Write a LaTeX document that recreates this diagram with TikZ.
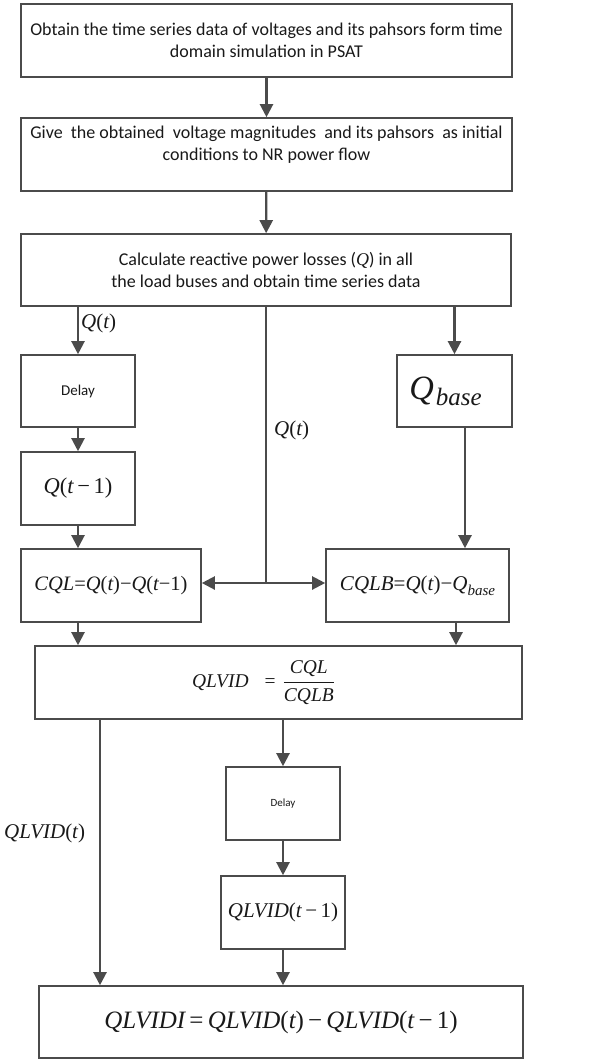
\documentclass[tikz,border=0pt]{standalone}
\usepackage{fontspec}
\setmainfont{Carlito}
\newfontfamily\tnr{Liberation Serif}
\usetikzlibrary{arrows.meta}
\newcommand\mi[1]{{\tnr\itshape #1}}
\newcommand\mup[1]{{\tnr #1}}
\newcommand\mminus{{\tnr\,\char"2212\,}}
\definecolor{lc}{RGB}{75,75,75}
\definecolor{txt}{RGB}{25,25,25}
\begin{document}
\begin{tikzpicture}[x=1pt,y=-1pt,
  box/.style={draw=lc, line width=1.6pt, inner sep=0pt, align=center, text=txt},
  arr/.style={draw=lc, line width=2.2pt, -{Triangle[length=13pt,width=13pt]}},
  ln/.style={draw=lc, line width=2.2pt},
  lbl/.style={text=txt, inner sep=0pt},
  bigtxt/.style={font=\fontsize{18}{22.5}\selectfont}]
\fill[white] (0,0) rectangle (599,1061);
\useasboundingbox (0,0) rectangle (599,1061);

\node[box,bigtxt,minimum width=491pt,minimum height=73pt] (b1) at (266.5,40.5)
  {Obtain the time series data of voltages and its pahsors form time\\domain simulation in PSAT};
\node[box,bigtxt,minimum width=491pt,minimum height=73pt] (b2) at (266.5,154.5)
  {Give\ \ the obtained\ \ voltage magnitudes\ \ and its pahsors\ \ as initial\\conditions to NR power flow\\ \mbox{}};
\node[box,bigtxt,minimum width=490pt,minimum height=72pt] (b3) at (266,270)
  {Calculate reactive power losses (\mi{Q}) in all\\the load buses and obtain time series data};

\node[box,minimum width=114pt,minimum height=72pt,font=\fontsize{15}{18}\selectfont] (d1) at (78,391) {Delay};
\node[box,minimum width=115pt,minimum height=72pt] (qb) at (454.5,391)
  {\fontsize{34}{34}\selectfont\mi{Q}\hspace{2pt}\raisebox{-6pt}{\fontsize{25}{25}\selectfont\mi{base}}\hspace{18pt}};
\node[box,minimum width=114pt,minimum height=73pt,font=\fontsize{22.5}{26}\selectfont] (q1) at (78,488.5)
  {\mi{Q}\mup{(}\mi{t}\mminus\mup{1)}};
\node[box,minimum width=180pt,minimum height=73pt,font=\fontsize{20.5}{24}\selectfont] (cql) at (111,585.5)
  {\mi{CQL}\mup{=}\mi{Q}\mup{(}\mi{t}\mup{)}\mup{\char"2212}\mi{Q}\mup{(}\mi{t}\mup{\char"2212 1)}};
\node[box,minimum width=183pt,minimum height=73pt,font=\fontsize{21}{24}\selectfont] (cqlb) at (417.5,585.5)
  {\mi{CQLB}\mup{=}\mi{Q}\mup{(}\mi{t}\mup{)}\mup{\char"2212}\mi{Q}\raisebox{-5pt}{\fontsize{15}{15}\selectfont\mi{base}}};
\node[box,minimum width=487pt,minimum height=73pt,font=\fontsize{19.5}{22}\selectfont] (qv) at (278.5,682.5)
  {\mi{QLVID}\hspace{16pt}\mup{=}\hspace{7pt}$\displaystyle\frac{\mbox{\fontsize{19.5}{22}\selectfont\mi{CQL}}}{\mbox{\fontsize{19.5}{22}\selectfont\mi{CQLB}}}$\hspace{30pt}};
\node[box,minimum width=114pt,minimum height=73pt,font=\fontsize{11}{13}\selectfont] (d2) at (283,803.5) {Delay};
\node[box,minimum width=124pt,minimum height=73pt,font=\fontsize{21}{24}\selectfont] (qv1) at (283,912.5)
  {\mi{QLVID}\mup{(}\mi{t}\mminus\mup{1)}};
\node[box,minimum width=484pt,minimum height=72pt,font=\fontsize{25}{28}\selectfont] (bt) at (281,1022)
  {\mi{QLVIDI}\mup{\,=\,}\mi{QLVID}\mup{(}\mi{t}\mup{)}\mminus\mi{QLVID}\mup{(}\mi{t}\mminus\mup{1)}};

% connectors
\draw[arr] (b1) -- (b2);
\draw[arr] (b2) -- (b3);
\draw[arr] (b3.south -| d1.north) -- (d1.north);
\node[lbl,font=\fontsize{21}{24}\selectfont,anchor=west] (lq1) at (81,323) {\mi{Q}\mup{(}\mi{t}\mup{)}};
\draw[arr] (b3.south -| qb.north) -- (qb.north);
\draw[arr] (d1) -- (q1);
\draw[arr] (q1.south) -- (q1.south |- cql.north);
\coordinate (qbx) at (465,0);
\draw[arr] (qb.south -| qbx) -- (cqlb.north -| qbx);
\coordinate (j) at (266,583);
\draw[ln] (b3.south) -- (j);
\node[lbl,font=\fontsize{21}{24}\selectfont,anchor=west] (lq2) at (274,430) {\mi{Q}\mup{(}\mi{t}\mup{)}};
\draw[arr] (j) -- (j -| cql.east);
\draw[arr] (j) -- (j -| cqlb.west);
\draw[arr] (cql.south -| d1) -- (qv.north -| d1);
\coordinate (cbx) at (456,0);
\draw[arr] (cqlb.south -| cbx) -- (qv.north -| cbx);
\coordinate (lx) at (100,0);
\draw[arr] (qv.south -| lx) -- (bt.north -| lx);
\node[lbl,font=\fontsize{21}{24}\selectfont,anchor=west] (lqv) at (4,833) {\mi{QLVID}\mup{(}\mi{t}\mup{)}};
\draw[arr] (qv.south -| d2) -- (d2.north);
\draw[arr] (d2) -- (qv1);
\draw[arr] (qv1.south) -- (bt.north -| qv1);
\end{tikzpicture}
\end{document}
